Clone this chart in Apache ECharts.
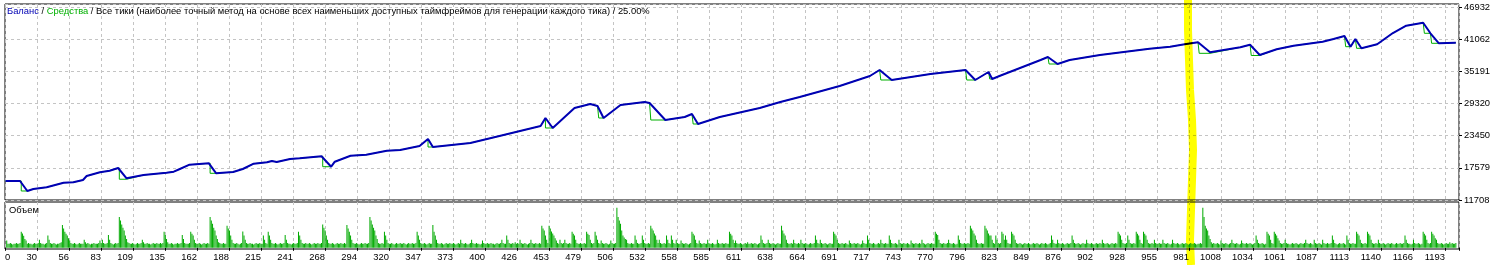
<!DOCTYPE html>
<html><head><meta charset="utf-8">
<script src="https://cdn.jsdelivr.net/npm/echarts@6/dist/echarts.min.js"></script>
<style>html,body{margin:0;padding:0;background:#fff}#c{width:1496px;height:265px}</style>
</head><body><div id="c"></div><script>
// ---------- text ----------
const legendBalance = 'Баланс';
const legendEquity = 'Средства';
const legendRest = 'Все тики (наиболее точный метод на основе всех наименьших доступных таймфреймов для генерации каждого тика) / 25.00%';
const volumeTitle = 'Объем';

// ---------- axes ----------
const xTickLabels = ['0','30','56','83','109','135','162','188','215','241','268','294','320','347','373','400','426','453','479','506','532','558','585','611','638','664','691','717','743','770','796','823','849','876','902','928','955','981','1008','1034','1061','1087','1113','1140','1166','1193'];
const yTickLabels = ['11708','17579','23450','29320','35191','41062','46932'];
const xMin = 3.57, xInterval = 26.432, xMax = 1204.6;
const yMin = 11708, yInterval = 5870.67, yMax = 47510;

// ---------- balance: [trade, value] ----------
const balance = [
[4,15179],[16,15179],[22,13352],[27,13717],[38,14028],[52,14868],[60,14941],[68,15361],[71,16092],[82,16768],[90,17060],[97,17553],[104,15672],
[118,16275],[137,16695],[143,16877],[148,17370],[156,18156],[172,18412],[178,16585],[192,16822],[200,17370],[209,18339],[220,18594],[224,18832],[228,18649],
[239,19197],[247,19325],[265,19690],[273,17790],[276,18704],[289,19800],[302,19983],[319,20713],[330,20841],[346,21572],[353,22850],[357,21389],
[388,22120],[412,23398],[446,25225],[450,26686],[456,24860],[474,28513],[487,29243],[493,28878],[498,26686],[512,29061],[532,29609],[536,29426],[549,26321],
[565,26869],[571,27417],[576,25590],[594,26869],[627,28513],[644,29609],[660,30522],[693,32531],[718,34358],[726,35454],[736,33627],[768,34723],[797,35454],
[805,33627],[816,35089],[819,33810],[825,34358],[859,37280],[865,37828],[873,36550],[883,37280],[908,38194],[949,39345],[966,39710],[978,40148],[989,40514],
[999,38687],[1024,39601],[1032,40075],[1040,38194],[1054,39236],[1068,39893],[1092,40623],[1101,41117],[1110,41665],[1115,39710],[1119,41117],[1124,39418],
[1137,40148],[1150,42212],[1161,43546],[1175,44094],[1181,42157],[1188,40331],[1202,40441]
];

// ---------- equity: [trade, value] ----------
const equity = [
[4,15179],[17,15179],[17,13352],[22,13352],[27,13717],[38,14028],[52,14868],[60,14941],[68,15361],[71,16092],[82,16768],[90,17060],[98,17553],[98,15500],[104,15500],[105,15672],
[118,16275],[137,16695],[143,16877],[148,17370],[156,18156],[173,18412],[173,16585],[178,16585],[192,16822],[200,17370],[209,18339],[220,18594],[224,18832],[224,18649],[228,18649],
[239,19197],[247,19325],[266,19690],[266,17790],[273,17790],[276,18704],[289,19800],[302,19983],[319,20713],[330,20841],[346,21572],[353,22850],[353,21389],[357,21389],
[388,22120],[412,23398],[446,25225],[450,26686],[450,24860],[456,24860],[474,28513],[487,29243],[493,28878],[494,26686],[498,26686],[512,29061],[532,29609],[536,29426],[537,26321],[549,26321],
[565,26869],[571,27417],[572,25590],[576,25590],[594,26869],[627,28513],[644,29609],[660,30522],[693,32531],[718,34358],[726,35454],[727,33627],[736,33627],[768,34723],[797,35454],
[798,33627],[805,33627],[816,35089],[817,33810],[819,33810],[825,34358],[859,37280],[865,37828],[866,36550],[873,36550],[883,37280],[908,38194],[949,39345],[966,39710],[978,40148],[989,40514],
[990,38500],[999,38500],[1024,39601],[1032,40075],[1033,38100],[1040,38100],[1054,39236],[1068,39893],[1092,40623],[1101,41117],[1110,41665],[1111,39710],[1115,39710],[1119,41117],[1120,39418],[1124,39418],
[1137,40148],[1150,42212],[1161,43546],[1175,44094],[1176,42157],[1181,42157],[1182,40331],[1188,40331],[1202,40441]
];

// ---------- volume per trade (0.01 lot), first value = trade 5 ----------
const volFirstTrade = 5;
const volumes = [
18,10,10,12,10,8,10,10,12,10,10,12,40,36,30,22,18,10,12,10,10,8,10,12,10,
10,12,20,12,10,10,8,10,12,31,20,12,10,10,12,10,8,10,10,12,14,57,48,40,35,
31,24,18,12,10,10,12,10,8,10,12,10,10,10,20,14,10,12,10,8,10,10,12,10,10,
10,12,18,12,20,12,10,10,12,32,20,12,10,8,10,12,10,12,77,68,58,50,43,31,22,
14,12,10,10,12,10,8,10,12,10,10,12,20,14,10,10,12,10,10,8,10,12,10,10,12,
10,10,12,10,12,40,32,22,14,10,10,12,10,8,10,10,12,10,10,12,32,22,12,10,10,
10,12,40,35,31,20,12,10,10,12,10,8,10,12,10,10,12,10,77,68,60,50,43,31,22,
14,12,10,10,12,10,10,55,48,43,31,20,12,10,10,12,10,8,10,12,41,31,20,12,10,
10,12,10,10,8,10,12,10,10,12,10,10,31,20,12,10,40,31,20,12,10,10,12,10,8,
10,12,10,10,12,32,20,12,10,10,8,10,12,10,10,12,40,31,20,12,10,10,12,10,10,
12,10,8,10,12,10,10,12,10,10,12,58,50,43,31,20,12,10,10,12,10,8,10,12,10,
10,12,10,10,12,10,57,48,40,31,20,12,10,10,12,10,8,10,12,10,10,12,10,10,12,
77,68,58,50,43,31,22,12,10,10,12,10,40,31,20,12,10,10,12,10,8,10,12,10,10,
12,10,10,12,10,8,10,12,10,10,12,10,10,12,40,31,20,12,10,10,12,10,8,10,12,
10,10,57,40,31,20,12,10,10,12,10,8,10,12,10,10,12,10,10,12,10,8,10,12,10,
20,12,10,10,12,10,8,10,12,20,12,10,10,12,10,10,8,10,18,12,10,10,12,10,10,
12,10,10,8,10,12,10,10,12,20,12,10,10,31,20,12,10,10,12,10,14,10,12,10,20,
12,10,10,12,10,8,10,12,20,12,10,10,12,10,10,12,10,55,48,43,31,20,12,55,48,
41,36,31,24,18,12,10,20,12,10,12,20,12,10,10,12,10,40,35,31,20,12,10,10,12,
10,10,12,10,40,35,32,20,12,10,12,40,31,20,12,10,18,12,10,10,12,10,8,10,18,
12,10,10,12,100,77,68,60,43,31,26,22,20,12,10,10,12,10,10,31,20,12,10,10,12,
31,20,12,10,10,12,10,55,48,43,36,31,20,12,20,12,10,10,12,10,31,20,12,10,31,
20,12,10,20,12,10,10,18,12,10,10,12,10,8,10,12,40,35,31,20,12,10,18,12,10,
10,12,10,10,20,12,10,10,12,10,8,10,20,12,10,10,12,10,10,12,10,10,40,35,31,
20,12,18,12,10,10,12,10,8,10,12,10,14,10,10,12,10,10,12,10,8,10,12,31,20,
12,10,10,12,20,12,10,10,12,10,8,10,12,10,10,55,43,36,31,20,12,10,10,12,10,
20,12,10,10,12,10,20,12,10,10,12,10,8,10,12,10,10,12,31,20,12,10,20,12,10,
10,12,10,8,10,12,10,10,40,35,31,20,12,10,10,12,10,10,12,10,8,18,12,10,10,
12,10,10,12,10,8,10,18,12,10,10,31,20,12,10,10,12,10,8,10,12,10,20,12,10,
10,12,10,10,31,20,12,10,10,12,10,8,20,12,10,10,12,10,10,12,10,8,18,12,10,
10,12,10,10,12,10,20,12,10,8,10,12,10,10,12,10,10,40,35,32,20,12,10,10,12,
10,10,12,20,12,10,10,12,10,8,10,31,20,12,10,10,12,10,10,12,10,55,48,43,36,
31,20,12,10,10,12,10,10,55,48,43,36,31,31,20,12,10,31,20,12,10,12,40,35,20,
31,20,12,10,10,40,35,31,20,12,10,10,12,10,8,10,12,10,10,12,10,8,10,12,10,
10,12,10,8,10,12,10,10,12,10,8,10,12,31,20,12,10,10,20,12,10,10,12,10,8,
10,12,10,10,12,31,20,12,10,10,12,10,8,10,12,10,10,20,12,10,10,12,10,8,10,
12,10,10,12,10,20,12,10,10,12,10,8,10,12,10,10,12,10,40,35,31,20,12,10,10,
12,31,20,12,10,10,12,10,40,35,31,20,12,10,40,35,31,20,12,10,10,12,10,20,12,
10,10,12,10,10,20,12,10,10,12,10,8,10,20,12,10,10,12,10,8,10,12,10,10,12,
10,8,10,12,10,10,12,10,8,10,10,12,10,100,77,55,48,43,31,22,14,10,12,10,10,
12,10,8,18,12,10,10,12,10,8,10,12,20,12,10,10,12,10,8,10,18,12,10,10,12,
10,10,12,10,8,10,12,31,20,12,10,10,12,10,8,10,40,35,31,20,12,10,40,35,31,
24,18,12,10,10,12,20,12,10,10,8,10,12,10,10,12,10,8,10,12,10,10,12,20,12,
10,10,12,10,8,20,12,10,10,12,10,8,20,12,10,10,12,10,10,12,31,20,12,10,8,
10,12,10,10,12,10,8,31,20,12,10,10,12,10,10,40,35,31,20,12,10,10,12,10,40,
35,31,20,12,10,10,12,10,20,12,10,10,12,10,8,10,12,10,10,12,10,8,10,12,10,
10,12,10,10,12,31,20,12,10,10,8,10,20,12,10,10,12,10,8,10,40,35,31,20,12,
10,12,40,35,31,24,20,12,10,10,12,10,8,10,12,10,10,14,10,12,10,10,12
];

// ---------- styles ----------
const FONT = 'Liberation Sans';
const blue = '#0000b4';
const green = '#00b000';
const volGreen = '#00aa00';
const gridGray = '#c4c4c4';

const chart = echarts.init(document.getElementById('c'), null, {renderer: 'canvas'});
const volData = volumes.map((v, i) => [volFirstTrade + i, v]);

chart.setOption({
  animation: false,
  backgroundColor: '#ffffff',
  title: [
    {
      text: '{b|' + legendBalance + '} / {g|' + legendEquity + '} / ' + legendRest,
      left: 7, top: 7, padding: 0,
      textStyle: {fontFamily: FONT, fontSize: 9.4, fontWeight: 'normal', color: '#000',
        rich: {b: {color: blue, fontFamily: FONT, fontSize: 9.4}, g: {color: green, fontFamily: FONT, fontSize: 9.4}}}
    },
    {
      text: volumeTitle, left: 9, top: 206, padding: 0,
      textStyle: {fontFamily: FONT, fontSize: 9.4, fontWeight: 'normal', color: '#000'}
    }
  ],
  grid: [
    {left: 5, top: 4, width: 1454, height: 196, show: true, borderColor: '#000', borderWidth: 1, backgroundColor: 'transparent', containLabel: false},
    {left: 5, top: 202, width: 1454, height: 47, show: true, borderColor: '#000', borderWidth: 1, backgroundColor: 'transparent', containLabel: false}
  ],
  xAxis: [
    {gridIndex: 0, type: 'value', min: xMin, max: xMax, interval: xInterval,
      axisLine: {show: false}, axisTick: {show: false}, axisLabel: {show: false},
      splitLine: {show: true, lineStyle: {color: gridGray, width: 1, type: [3, 3]}}},
    {gridIndex: 1, type: 'value', min: xMin, max: xMax, interval: xInterval,
      axisLine: {show: false},
      axisTick: {show: true, length: 3, lineStyle: {color: '#000'}},
      axisLabel: {show: true, margin: 4, align: 'right', alignMinLabel: 'left', fontFamily: FONT, fontSize: 9.4, color: '#000',
        formatter: (v, i) => (xTickLabels[i] !== undefined ? xTickLabels[i] : '')},
      splitLine: {show: true, lineStyle: {color: gridGray, width: 1, type: [3, 3]}}}
  ],
  yAxis: [
    {gridIndex: 0, type: 'value', position: 'right', min: yMin, max: yMax, interval: yInterval,
      axisLine: {show: false},
      axisTick: {show: true, length: 3, lineStyle: {color: '#000'}},
      axisLabel: {show: true, margin: 5, showMaxLabel: false, fontFamily: FONT, fontSize: 9.4, color: '#000',
        formatter: (v, i) => (yTickLabels[i] !== undefined ? yTickLabels[i] : '')},
      splitLine: {show: true, lineStyle: {color: gridGray, width: 1, type: [3, 3]}}},
    {gridIndex: 1, type: 'value', min: -3, max: 114.5, show: false, splitLine: {show: false}}
  ],
  series: [
    {name: legendEquity, type: 'line', xAxisIndex: 0, yAxisIndex: 0, data: equity, showSymbol: false, symbol: 'none',
      lineStyle: {color: green, width: 1}, z: 2},
    {name: legendBalance, type: 'line', xAxisIndex: 0, yAxisIndex: 0, data: balance, showSymbol: false, symbol: 'none',
      lineStyle: {color: blue, width: 2}, z: 3},
    {name: volumeTitle, type: 'bar', xAxisIndex: 1, yAxisIndex: 1, data: volData, barWidth: 1,
      itemStyle: {color: volGreen}, z: 2}
  ],
  graphic: [
    {type: 'polyline', z: 100, silent: true,
      shape: {points: [[1188,0],[1188,30],[1189,60],[1190,90],[1192,120],[1193,150],[1192,180],[1191,210],[1190,240],[1191,265]]},
      style: {stroke: '#ffff00', lineWidth: 8, fill: null, blend: 'multiply'}}
  ]
});
</script></body></html>
